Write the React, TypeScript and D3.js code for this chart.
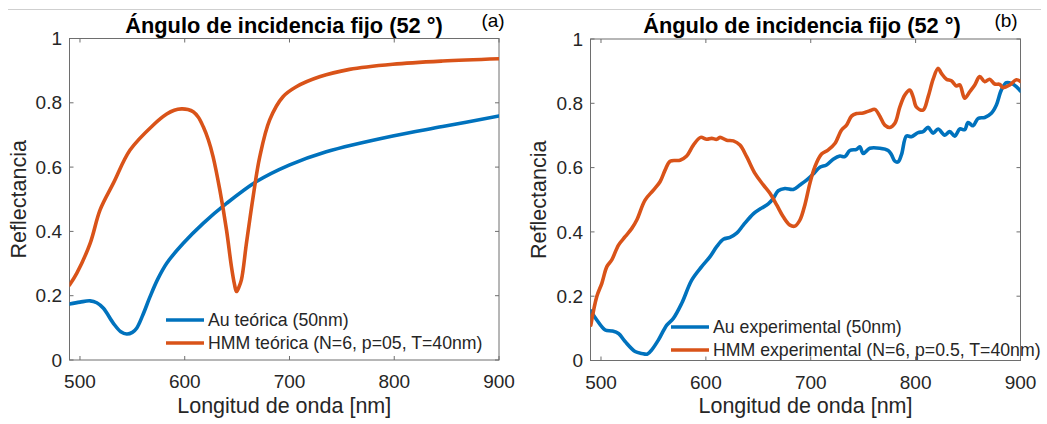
import React from "react";
import * as d3 from "d3";

// Wavelength ticks and reflectance ticks shared by both panels
const xTicks = [500, 600, 700, 800, 900];
const yTicks = [0, 0.2, 0.4, 0.6, 0.8, 1];
const xDomain: [number, number] = [490, 900];
const yDomain: [number, number] = [0, 1];

// (a) theoretical curves: [wavelength nm, reflectance]
const auTeorica: [number, number][] = [
  [490, 0.174], [500, 0.18], [509.7, 0.184], [516, 0.178], [522.4, 0.161], [531.9, 0.114],
  [539, 0.088], [544.6, 0.081], [550, 0.086], [554.1, 0.099], [560, 0.14], [566.9, 0.197],
  [574, 0.25], [582.8, 0.301], [598.6, 0.363], [617.6, 0.425], [639.9, 0.487],
  [668.5, 0.555], [700.2, 0.607], [735.1, 0.648], [798.6, 0.697], [846.2, 0.726], [900, 0.759],
];
const hmmTeorica: [number, number][] = [
  [490, 0.233], [497, 0.27], [509.7, 0.363], [519.2, 0.467], [531.9, 0.55], [547.8, 0.653],
  [570, 0.731], [582.8, 0.765], [590, 0.777], [597, 0.781], [603, 0.779], [608.1, 0.772], [613, 0.755],
  [617.6, 0.726], [622.5, 0.685], [627.1, 0.632], [633.5, 0.529], [639.9, 0.404],
  [644.6, 0.29], [647.5, 0.235], [649.4, 0.213], [651.5, 0.225], [654.1, 0.249], [658.9, 0.363],
  [665.3, 0.508], [671.6, 0.632], [681.1, 0.747], [693.8, 0.819], [706.5, 0.85],
  [728.7, 0.881], [757.3, 0.904], [798.6, 0.92], [846.2, 0.93], [900, 0.937],
];

// (b) experimental curves: [wavelength nm, reflectance]
const auExperimental: [number, number][] = [
  [490.3, 0.154], [496, 0.126], [504, 0.095], [510.3, 0.092], [516.7, 0.084], [523, 0.059],
  [532.5, 0.028], [538.9, 0.022], [544.3, 0.02], [548.4, 0.033], [554.8, 0.064], [562.7, 0.11],
  [569, 0.131], [577, 0.178], [586.5, 0.25], [596, 0.292], [604, 0.323], [610.3, 0.354],
  [616.7, 0.377], [623, 0.383], [629.4, 0.396], [635.7, 0.421], [645.2, 0.456], [651.6, 0.471],
  [659.5, 0.487], [664.3, 0.504], [669, 0.528], [675.4, 0.535], [683.3, 0.532], [689.7, 0.546],
  [696, 0.561], [702.4, 0.58], [708.7, 0.601], [715, 0.608], [721.4, 0.626], [727.8, 0.636],
  [732.5, 0.634], [737.3, 0.653], [743.7, 0.657], [746.8, 0.665], [750, 0.644], [756.3, 0.66],
  [765.9, 0.66], [773.8, 0.653], [777, 0.64], [780.2, 0.62], [783.3, 0.618], [786.5, 0.64],
  [791.3, 0.698], [796, 0.696], [802.4, 0.709], [807.1, 0.712], [811.9, 0.725], [816.7, 0.707],
  [821.4, 0.72], [827.8, 0.701], [832.5, 0.712], [837.3, 0.698], [842.1, 0.72], [846.8, 0.718],
  [850, 0.74], [854.8, 0.73], [859.5, 0.753], [865.9, 0.756], [872.2, 0.769], [877, 0.795],
  [881.7, 0.841], [886.5, 0.864], [891.3, 0.862], [896, 0.852], [900, 0.838],
];
const hmmExperimental: [number, number][] = [
  [490.3, 0.11], [496, 0.199], [500.8, 0.24], [505.6, 0.292], [510.3, 0.313], [516.7, 0.359],
  [523, 0.385], [529.4, 0.411], [534.1, 0.437], [542, 0.499], [550, 0.53], [556.3, 0.556],
  [561.1, 0.592], [565.9, 0.62], [575.4, 0.623], [581.7, 0.636], [588.1, 0.67], [595, 0.694],
  [600.8, 0.688], [605.6, 0.691], [610.3, 0.688], [613.5, 0.694], [619.8, 0.685], [626.2, 0.683],
  [632.5, 0.67], [638.9, 0.634], [646.8, 0.582], [654.8, 0.546], [661.1, 0.52], [667.5, 0.484],
  [673.8, 0.447], [680.2, 0.421], [684.9, 0.418], [689.7, 0.437], [694.4, 0.484], [699.2, 0.551],
  [704, 0.603], [710.3, 0.642], [716.7, 0.655], [723, 0.675], [729.4, 0.717], [734.1, 0.732],
  [738.9, 0.76], [743.7, 0.768], [750, 0.77], [756.3, 0.777], [761.1, 0.781], [765.9, 0.76],
  [770.6, 0.732], [775.4, 0.725], [780.2, 0.738], [784.9, 0.788], [789.7, 0.826], [794.4, 0.841],
  [797.6, 0.82], [800.8, 0.788], [807.1, 0.779], [811.9, 0.82], [816.7, 0.875], [821.4, 0.909],
  [824.6, 0.893], [829.4, 0.875], [834.1, 0.87], [838.9, 0.854], [842.1, 0.857], [846.8, 0.816],
  [851.6, 0.836], [856.4, 0.857], [861.1, 0.883], [865.9, 0.867], [870.6, 0.875], [875.4, 0.86],
  [880.2, 0.859], [883.3, 0.849], [889.7, 0.857], [896, 0.873], [900, 0.868],
];

const titleText = "Ángulo de incidencia fijo (52 °)";
const xLabel = "Longitud de onda [nm]";
const yLabel = "Reflectancia";
const legendA = ["Au teórica (50nm)", "HMM teórica (N=6, p=05, T=40nm)"];
const legendB = ["Au experimental (50nm)", "HMM experimental (N=6, p=0.5, T=40nm)"];

const BLUE = "#0072BD";
const ORANGE = "#D95319";
const FONT = "'Liberation Sans', Arial, Helvetica, sans-serif";
const TEXT = "#262626";
const AXIS = "#6e6e6e";

type PanelProps = {
  left: number;
  right: number;
  top: number;
  bottom: number;
  series: [number, number][][];
  labels: string[];
  tag: string;
  tagX: number;
  titleX: number;
  yLabelX: number;
  legendX: number;
  legendY: number;
};

function Panel(p: PanelProps) {
  const x = d3.scaleLinear().domain(xDomain).range([p.left, p.right]);
  const y = d3.scaleLinear().domain(yDomain).range([p.bottom, p.top]);
  const line = d3
    .line<[number, number]>()
    .x((d) => x(d[0]))
    .y((d) => y(d[1]))
    .curve(d3.curveCatmullRom.alpha(0.5));
  const colors = [BLUE, ORANGE];
  const tick = 4;
  const clipId = `clip-${p.tag.replace(/\W/g, "")}`;
  return (
    <g>
      <defs>
        <clipPath id={clipId}>
          <rect x={p.left} y={p.top - 3} width={p.right - p.left} height={p.bottom - p.top + 3} />
        </clipPath>
      </defs>
      {/* axes box */}
      <rect
        x={p.left}
        y={p.top}
        width={p.right - p.left}
        height={p.bottom - p.top}
        fill="white"
        stroke={AXIS}
        strokeWidth={1}
      />
      {/* inward ticks on all four sides */}
      {xTicks.map((t) => (
        <g key={`xt${t}`}>
          <line x1={x(t)} x2={x(t)} y1={p.bottom} y2={p.bottom - tick} stroke={AXIS} />
          <line x1={x(t)} x2={x(t)} y1={p.top} y2={p.top + tick} stroke={AXIS} />
          <text
            x={x(t)}
            y={p.bottom + 28}
            textAnchor="middle"
            fontSize={19}
            fontFamily={FONT}
            fill={TEXT}
          >
            {t}
          </text>
        </g>
      ))}
      {yTicks.map((t) => (
        <g key={`yt${t}`}>
          <line x1={p.left} x2={p.left + tick} y1={y(t)} y2={y(t)} stroke={AXIS} />
          <line x1={p.right} x2={p.right - tick} y1={y(t)} y2={y(t)} stroke={AXIS} />
          <text
            x={p.left - 7.5}
            y={y(t)}
            dy="0.35em"
            textAnchor="end"
            fontSize={19}
            fontFamily={FONT}
            fill={TEXT}
          >
            {t}
          </text>
        </g>
      ))}
      {/* data */}
      <g clipPath={`url(#${clipId})`}>
        {p.series.map((s, i) => (
          <path
            key={i}
            d={line(s) || ""}
            fill="none"
            stroke={colors[i]}
            strokeWidth={3.6}
            strokeLinejoin="round"
            strokeLinecap="round"
          />
        ))}
      </g>
      {/* legend */}
      {p.labels.map((lab, i) => {
        const ly = p.legendY + i * 23;
        return (
          <g key={lab}>
            <line
              x1={p.legendX}
              x2={p.legendX + 38}
              y1={ly}
              y2={ly}
              stroke={colors[i]}
              strokeWidth={3.6}
            />
            <text
              x={p.legendX + 42}
              y={ly}
              dy="0.35em"
              fontSize={17.7}
              fontFamily={FONT}
              fill={TEXT}
            >
              {lab}
            </text>
          </g>
        );
      })}
      {/* titles and labels */}
      <text
        x={p.titleX}
        y={33}
        textAnchor="middle"
        fontSize={21.8}
        fontWeight="bold"
        fontFamily={FONT}
        fill="#000"
      >
        {titleText}
      </text>
      <text x={p.tagX} y={26.5} textAnchor="middle" fontSize={19} fontFamily={FONT} fill="#000">
        {p.tag}
      </text>
      <text
        x={(p.left + p.right) / 2}
        y={412.5}
        textAnchor="middle"
        fontSize={21.5}
        fontFamily={FONT}
        fill={TEXT}
      >
        {xLabel}
      </text>
      <text
        transform={`translate(${p.yLabelX},${(p.top + p.bottom) / 2}) rotate(-90)`}
        textAnchor="middle"
        fontSize={21.5}
        fontFamily={FONT}
        fill={TEXT}
      >
        {yLabel}
      </text>
    </g>
  );
}

export default function App() {
  return (
    <svg
      width={1047}
      height={424}
      viewBox="0 0 1047 424"
      style={{ position: "absolute", left: 0, top: 0, background: "white" }}
    >
      <rect width={1047} height={424} fill="white" />
      <line x1={8} x2={1041} y1={9.5} y2={9.5} stroke="#cfcfcf" strokeWidth={1} />
      <Panel
        left={69.5}
        right={499}
        top={38.5}
        bottom={360}
        series={[auTeorica, hmmTeorica]}
        labels={legendA}
        tag="(a)"
        tagX={493}
        titleX={284}
        yLabelX={26}
        legendX={166}
        legendY={320}
      />
      <Panel
        left={590.5}
        right={1020.5}
        top={39}
        bottom={360.5}
        series={[auExperimental, hmmExperimental]}
        labels={legendB}
        tag="(b)"
        tagX={1006}
        titleX={802}
        yLabelX={546}
        legendX={671}
        legendY={327}
      />
    </svg>
  );
}
